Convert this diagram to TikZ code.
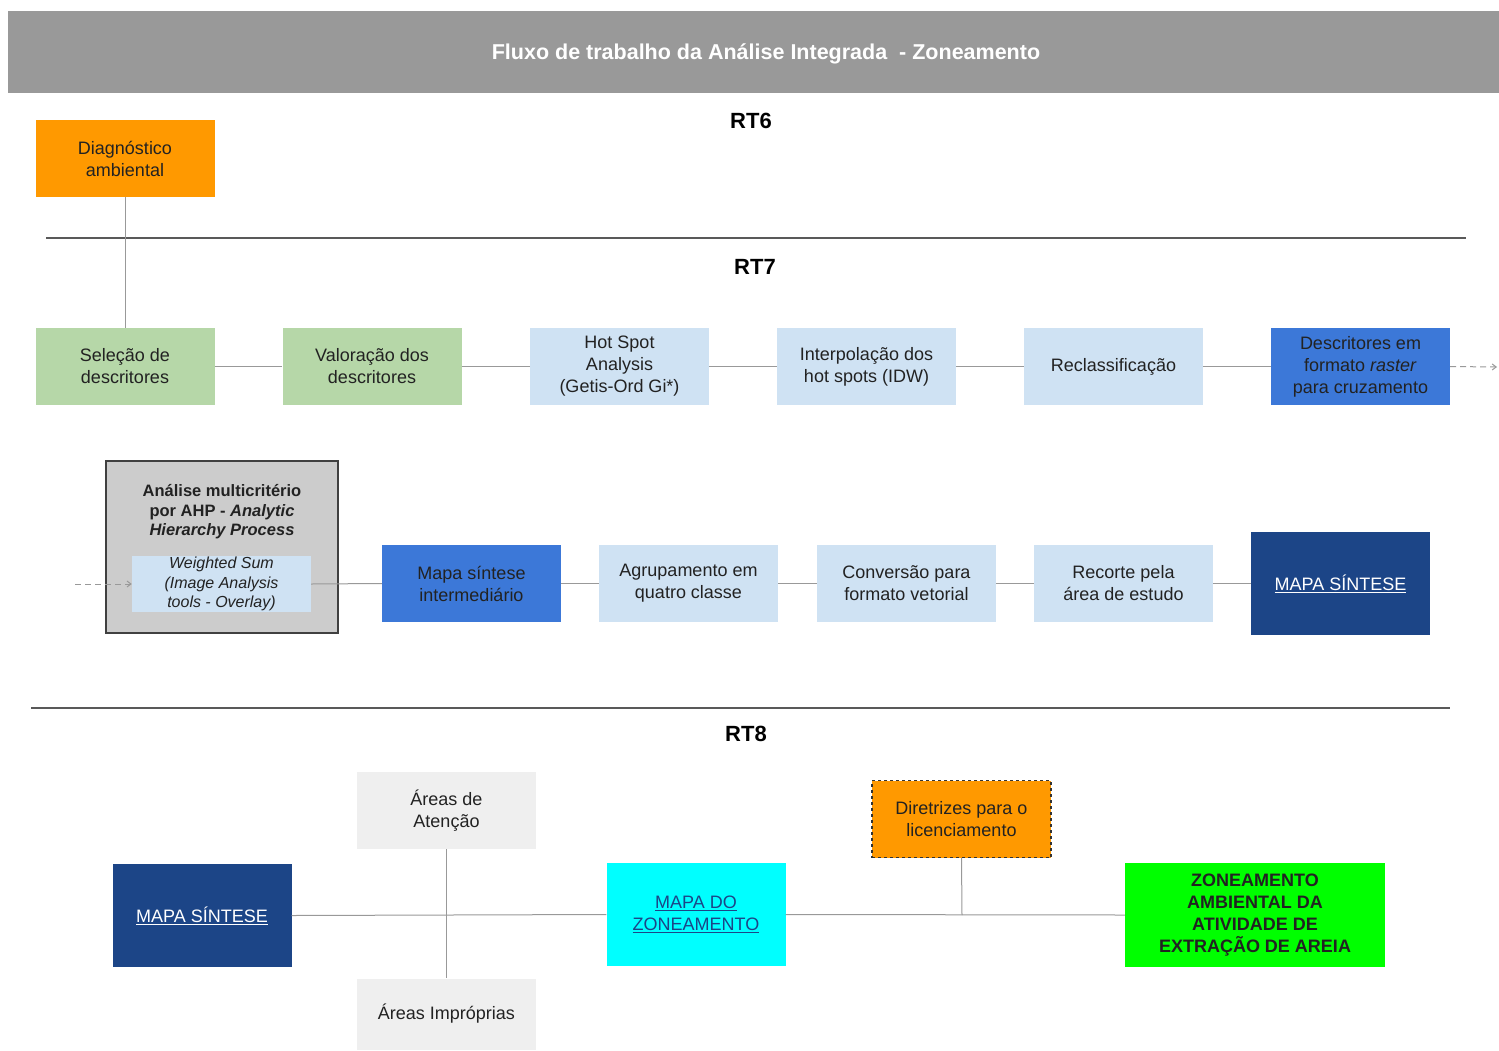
\documentclass[tikz,border=0pt]{standalone}
\usepackage{fontspec}
\setmainfont{Liberation Sans}
\usetikzlibrary{arrows.meta}
\definecolor{cOrange}{HTML}{FF9900}
\definecolor{cGreen}{HTML}{B6D7A8}
\definecolor{cLBlue}{HTML}{CFE2F3}
\definecolor{cBlue}{HTML}{3C78D8}
\definecolor{cDBlue}{HTML}{1C4587}
\definecolor{cTitle}{HTML}{999999}
\definecolor{cAHP}{HTML}{CCCCCC}
\definecolor{cLGray}{HTML}{EFEFEF}
\definecolor{cCyan}{HTML}{00FFFF}
\definecolor{cLime}{HTML}{00FF00}
\definecolor{cText}{HTML}{222222}
\begin{document}
\begin{tikzpicture}[x=1pt,y=-1pt,
  box/.style={rectangle, inner sep=0pt, minimum width=179pt, minimum height=77pt, align=center,
    font=\fontsize{18}{22}\selectfont, text=cText},
  conn/.style={draw=cTitle, line width=1pt},
  sep/.style={draw=black!65, line width=1.2pt},
  dasharrow/.style={draw=cTitle, line width=1pt, dash pattern=on 6pt off 4pt, -{Straight Barb[length=4pt,width=6pt]}},
  rt/.style={font=\fontsize{22}{26}\selectfont\bfseries, text=black}
]
\useasboundingbox (0,0) rectangle (1499,1050);
\fill[white] (0,0) rectangle (1499,1050);
% title bar
\node[fill=cTitle, minimum width=1491pt, minimum height=82pt, inner sep=0pt, anchor=north west] (title) at (8,11) {};
\node[text=white, font=\fontsize{21.5}{24}\selectfont\bfseries] (titletext) at (766,54) {Fluxo de trabalho da Análise Integrada \ - Zoneamento};

% RT6
\node[rt] (rt6) at (751,121) {RT6};
\node[box, fill=cOrange] (diag) at (125,158.5) {Diagnóstico\\ambiental};
\coordinate (l1a) at (46,238); \coordinate (l1b) at (1466,238);
\draw[sep] (l1a) -- (l1b);

% RT7
\node[rt] (rt7) at (755,267) {RT7};
\node[box, fill=cGreen] (sel) at (125,366.5) {Seleção de\\descritores};
\node[box, fill=cGreen] (val) at (372,366.5) {Valoração dos\\descritores};
\node[box, fill=cLBlue] (hot) at (619.5,366.5) {Hot Spot\\Analysis\\(Getis-Ord Gi*)};
\node[box, fill=cLBlue] (interp) at (866.5,366.5) {Interpolação dos\\hot spots (IDW)};
\node[box, fill=cLBlue] (recl) at (1113.5,366.5) {Reclassificação};
\node[box, fill=cBlue] (desc) at (1360.5,366.5) {Descritores em\\formato \textit{raster}\\para cruzamento};
\coordinate (descend) at (1497,367);

\draw[conn] (diag.south) -- (sel.north);
\draw[conn] (sel) -- (val);
\draw[conn] (val) -- (hot);
\draw[conn] (hot) -- (interp);
\draw[conn] (interp) -- (recl);
\draw[conn] (recl) -- (desc);
\draw[dasharrow] (desc.east) -- (descend);

% AHP
\node[rectangle, fill=cAHP, draw=black!75, line width=1.2pt, minimum width=232pt, minimum height=172pt, inner sep=0pt] (ahp) at (222,547) {};
\node[align=center, font=\fontsize{16.5}{19.5}\selectfont\bfseries, text=cText] (ahptext) at (222,512) {Análise multicritério\\por AHP - \textit{Analytic}\\\textit{Hierarchy Process}};
\node[box, fill=cLBlue, minimum width=179pt, minimum height=56pt, font=\fontsize{16}{19.5}\selectfont\itshape] (ws) at (221.5,584) {Weighted Sum\\(Image Analysis\\tools - Overlay)};
\coordinate (wsstart) at (75,584);
\draw[dasharrow] (wsstart) -- (ws.west);

\node[box, fill=cBlue] (msi) at (471.5,583.5) {Mapa síntese\\intermediário};
\node[box, fill=cLBlue] (agr) at (688.5,583.5) {Agrupamento em\\quatro classe};
\node[box, fill=cLBlue] (conv) at (906.5,583.5) {Conversão para\\formato vetorial};
\node[box, fill=cLBlue] (rec) at (1123.5,583.5) {Recorte pela\\área de estudo};
\node[box, fill=cDBlue, minimum height=103pt, text=white] (ms1) at (1340.5,583.5) {\underline{MAPA SÍNTESE}};

\draw[conn] (ws.east) -- (msi.west);
\draw[conn] (msi) -- (agr);
\draw[conn] (agr) -- (conv);
\draw[conn] (conv) -- (rec);
\draw[conn] (rec) -- (ms1);

\coordinate (l2a) at (31,708); \coordinate (l2b) at (1450,708);
\draw[sep] (l2a) -- (l2b);

% RT8
\node[rt] (rt8) at (746,734) {RT8};
\node[box, fill=cLGray] (aten) at (446.5,810.5) {Áreas de\\Atenção};
\node[box, fill=cLGray, minimum height=71pt] (impr) at (446.5,1014) {Áreas Impróprias};
\node[box, fill=cDBlue, minimum height=103pt, text=white] (ms2) at (202,915.5) {\underline{MAPA SÍNTESE}};
\node[box, fill=cCyan, minimum height=103pt, text=cDBlue] (mz) at (696,914.5) {\underline{MAPA DO}\\\underline{ZONEAMENTO}};
\node[box, fill=cOrange, draw=black!80, dashed, line width=1.2pt] (dir) at (961.5,819) {Diretrizes para o\\licenciamento};
\node[box, fill=cLime, minimum width=260pt, minimum height=104pt, font=\fontsize{18}{22}\selectfont\bfseries] (zon) at (1255,915) {ZONEAMENTO\\AMBIENTAL DA\\ATIVIDADE DE\\EXTRAÇÃO DE AREIA};

\coordinate (jd) at (962,915);
\draw[conn] (ms2.east) -- (mz.west);
\draw[conn] (aten.south) -- (impr.north);
\draw[conn] (mz.east) -- (zon.west);
\draw[conn] (dir.south) -- (jd);
\end{tikzpicture}
\end{document}
